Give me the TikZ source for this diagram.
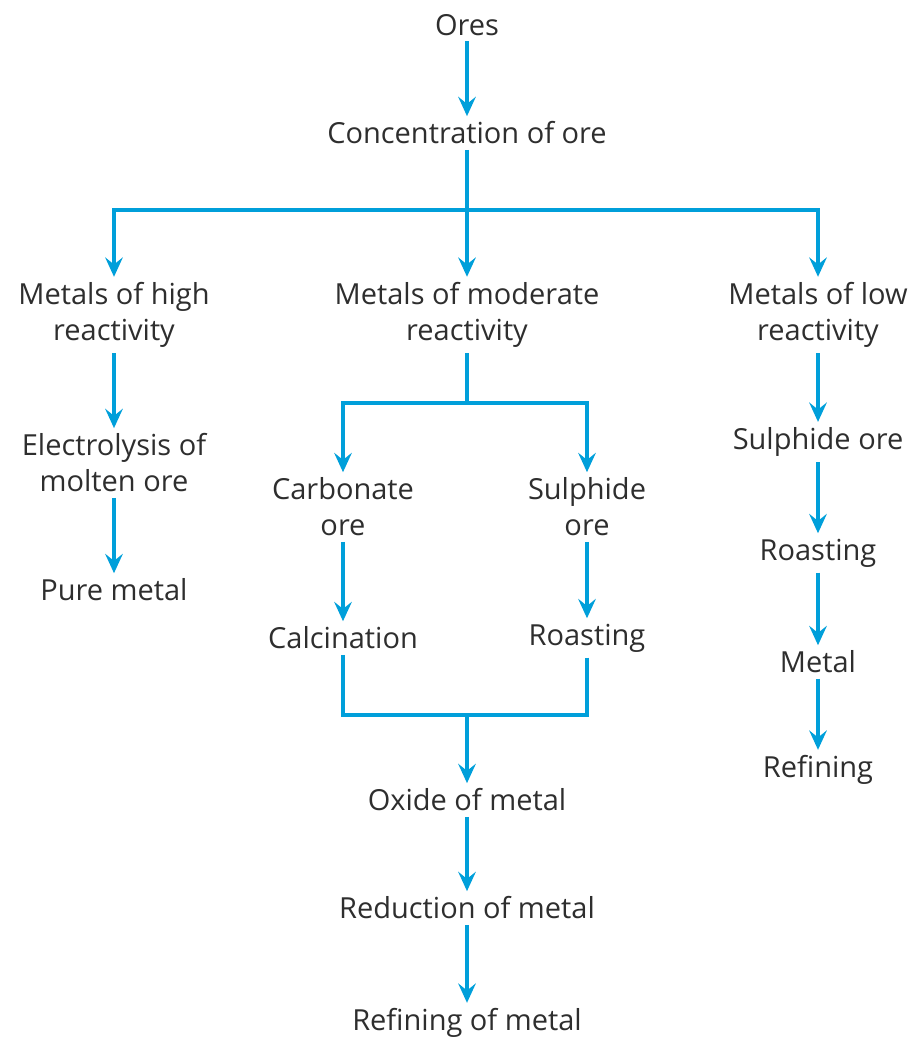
\documentclass[tikz,border=0pt]{standalone}
\usepackage{fontspec}
\setmainfont{Open Sans}
\usetikzlibrary{arrows.meta}
\definecolor{flowblue}{HTML}{009FDA}
\definecolor{flowtext}{HTML}{2E2E2E}
\begin{document}
\begin{tikzpicture}[x=0.02cm, y=-0.02cm,
        step box/.style={text=flowtext, align=center, inner sep=3pt,
            font=\fontsize{16.5}{20.5}\selectfont},
        flow/.style={draw=flowblue, line width=1.9pt},
        flow arrow/.style={flow, -{Stealth[length=11pt, width=10pt, inset=4pt]}}]
    \useasboundingbox (0, 0) rectangle (916, 1040);
    % top
    \node[step box] (ores) at (467, 25) {Ores};
    \node[step box] (conc) at (467, 133) {Concentration of ore};
    \draw[flow arrow] (ores) -- (conc);
    % three groups
    \node[step box] (high) at (114, 315) {Metals of high\\reactivity};
    \node[step box] (mod) at (467, 315) {Metals of moderate\\reactivity};
    \node[step box] (low) at (818, 315) {Metals of low\\reactivity};
    \coordinate (split) at (467, 210);
    \draw[flow] (conc) -- (split);
    \draw[flow arrow] (split) -| (high);
    \draw[flow arrow] (split) -- (mod);
    \draw[flow arrow] (split) -| (low);
    % high reactivity
    \node[step box] (elec) at (114, 463) {Electrolysis of\\molten ore};
    \node[step box] (pure) at (114, 590) {Pure metal};
    \draw[flow arrow] (high) -- (elec);
    \draw[flow arrow] (elec) -- (pure);
    % moderate reactivity
    \node[step box] (carb) at (343, 507) {Carbonate\\ore};
    \node[step box] (sulm) at (587, 507) {Sulphide\\ore};
    \coordinate (fork) at (467, 403);
    \draw[flow] (mod) -- (fork);
    \draw[flow arrow] (fork) -| (carb);
    \draw[flow arrow] (fork) -| (sulm);
    \node[step box] (calc) at (343, 638) {Calcination};
    \node[step box] (roasm) at (587, 638) {Roasting};
    \draw[flow arrow] (carb) -- (calc);
    \draw[flow arrow] (sulm) -- (roasm);
    \coordinate (join) at (467, 715);
    \draw[flow] (calc) |- (join);
    \draw[flow] (roasm) |- (join);
    \node[step box] (oxide) at (467, 800) {Oxide of metal};
    \node[step box] (redu) at (467, 908) {Reduction of metal};
    \node[step box] (refm) at (467, 1023) {Refining of metal};
    \draw[flow arrow] (join) -- (oxide);
    \draw[flow arrow] (oxide) -- (redu);
    \draw[flow arrow] (redu) -- (refm);
    % low reactivity
    \node[step box] (sull) at (818, 442) {Sulphide ore};
    \node[step box] (roasl) at (818, 553) {Roasting};
    \node[step box] (metal) at (818, 662) {Metal};
    \node[step box] (refl) at (818, 770) {Refining};
    \draw[flow arrow] (low) -- (sull);
    \draw[flow arrow] (sull) -- (roasl);
    \draw[flow arrow] (roasl) -- (metal);
    \draw[flow arrow] (metal) -- (refl);
\end{tikzpicture}
\end{document}
